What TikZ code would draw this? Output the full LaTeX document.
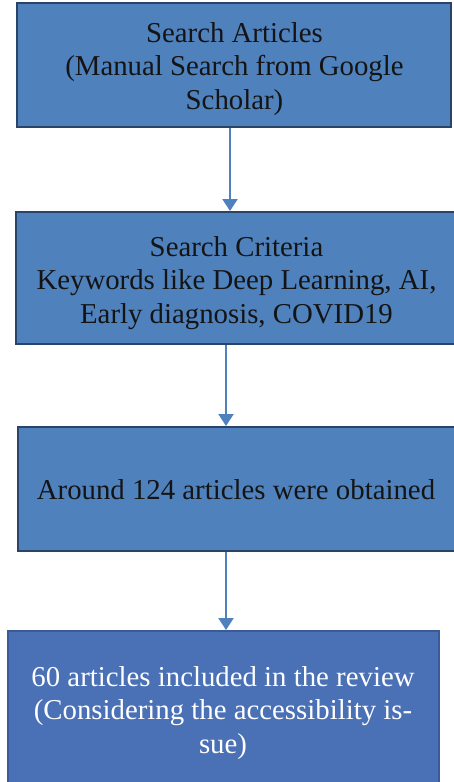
\documentclass[tikz,border=0pt]{standalone}
\usepackage{fontspec}
\setmainfont{Liberation Serif}
\usetikzlibrary{arrows.meta}
\definecolor{boxblue}{HTML}{4F81BD}
\definecolor{boxedge}{HTML}{2A4468}
\definecolor{lastblue}{HTML}{4A70B5}
\definecolor{lastedge}{HTML}{3A5A98}
\definecolor{arrowblue}{HTML}{4F81BD}
\tikzset{
  flowbox/.style={draw=boxedge, line width=2bp, fill=boxblue, inner sep=0pt},
  lastbox/.style={flowbox, draw=lastedge, fill=lastblue},
  boxtext/.style={inner sep=0pt, align=center, text=black!92,
    font=\fontsize{28.8bp}{33.5bp}\selectfont},
  lasttext/.style={boxtext, text=white},
  flowarrow/.style={draw=arrowblue, line width=2.2bp,
    -{Triangle[width=15bp,length=12bp]}}
}
\begin{document}
\begin{tikzpicture}[x=1bp,y=-1bp]
  \clip (0,0) rectangle (454,782);
  \fill[white] (0,0) rectangle (454,782);

  % boxes
  \node[flowbox, minimum width=434bp, minimum height=124bp] (search) at (234,65) {};
  \node[flowbox, minimum width=442bp, minimum height=132bp] (criteria) at (237,278) {};
  \node[flowbox, minimum width=440bp, minimum height=124bp] (obtained) at (238,489) {};
  \node[lastbox, minimum width=431bp, minimum height=170bp] (included) at (223.5,716) {};

  % box texts
  \node[boxtext] (searchtext) at (234.5,69)
    {Search Articles\\(Manual Search from Google\\Scholar)};
  \node[boxtext] (criteriatext) at (236.5,283)
    {Search Criteria\\Keywords like Deep Learning, AI,\\Early diagnosis, COVID19};
  \node[boxtext] (obtainedtext) at (236,490)
    {Around 124 articles were obtained};
  \node[lasttext] (includedtext) at (223,713)
    {60 articles included in the review\\(Considering the accessibility is-\\sue)};

  % connectors
  \coordinate (colA) at (230,0);
  \coordinate (colB) at (226,0);
  \draw[flowarrow] (search.south -| colA) -- (criteria.north -| colA);
  \draw[flowarrow] (criteria.south -| colB) -- (obtained.north -| colB);
  \draw[flowarrow] (obtained.south -| colB) -- (included.north -| colB);
\end{tikzpicture}
\end{document}
